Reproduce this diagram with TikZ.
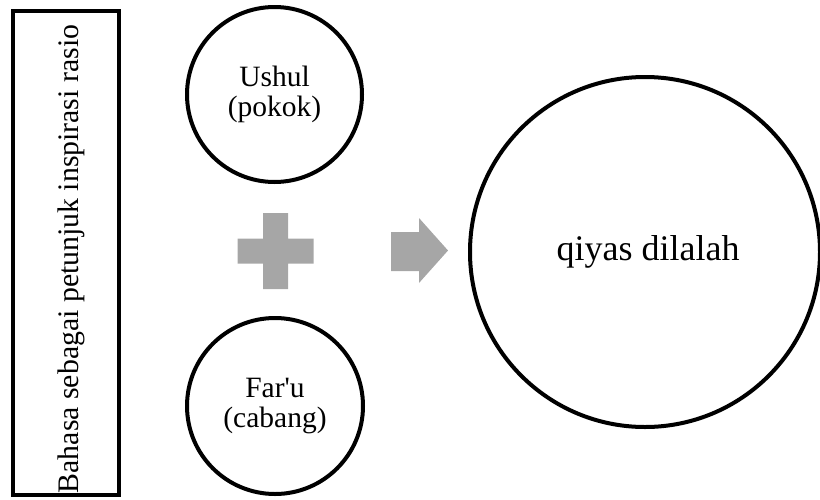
\documentclass[tikz,border=0pt]{standalone}
\usepackage{fontspec}
\setmainfont{Liberation Serif}
\usetikzlibrary{calc}
\begin{document}
\begin{tikzpicture}[x=1pt,y=-1pt,
  ring/.style={circle,draw=black,line width=4pt,inner sep=0pt,align=center},
  label/.style={font=\fontsize{29.5}{30.5}\selectfont,align=center},
  sidebox/.style={draw=black,line width=4pt,inner sep=0pt},
  symbolfill/.style={fill=gray65}]
\definecolor{gray65}{HTML}{A6A6A6}
\useasboundingbox (0,0) rectangle (820,499);

% side panel with rotated caption
\node[sidebox,minimum width=106pt,minimum height=484pt] (side) at (66,253) {};
\node[font=\fontsize{29.8}{31.5}\selectfont,rotate=90,inner sep=0pt] (sidetext) at (71,259)
  {Bahasa sebagai petunjuk inspirasi rasio};

% two input circles
\node[ring,minimum size=175pt] (ushul) at (274.5,94.5) {};
\node[label] (ushultext) at (ushul.center) {Ushul\\(pokok)};
\node[ring,minimum size=176pt] (faru) at (275,406) {};
\node[label] (farutext) at (faru.center) {Far\textquotesingle u\\(cabang)};

% result circle
\node[ring,minimum size=350pt] (qiyas) at (645,252) {};
\node[font=\fontsize{36}{38}\selectfont] (qiyastext) at (648,252) {qiyas dilalah};

% plus sign
\coordinate (plus) at (275.5,251);
\fill[symbolfill] ($(plus)+(-38,-12.5)$) -- ++(25.5,0) -- ++(0,-25.5) -- ++(25,0) -- ++(0,25.5)
  -- ++(25.5,0) -- ++(0,25) -- ++(-25.5,0) -- ++(0,25.5) -- ++(-25,0) -- ++(0,-25.5)
  -- ++(-25.5,0) -- cycle;

% block arrow
\coordinate (tip) at (448,250.5);
\fill[symbolfill] (391,232) -- (419,232) -- (419,218) -- (tip) -- (419,283) -- (419,271)
  -- (391,271) -- cycle;
\end{tikzpicture}
\end{document}
